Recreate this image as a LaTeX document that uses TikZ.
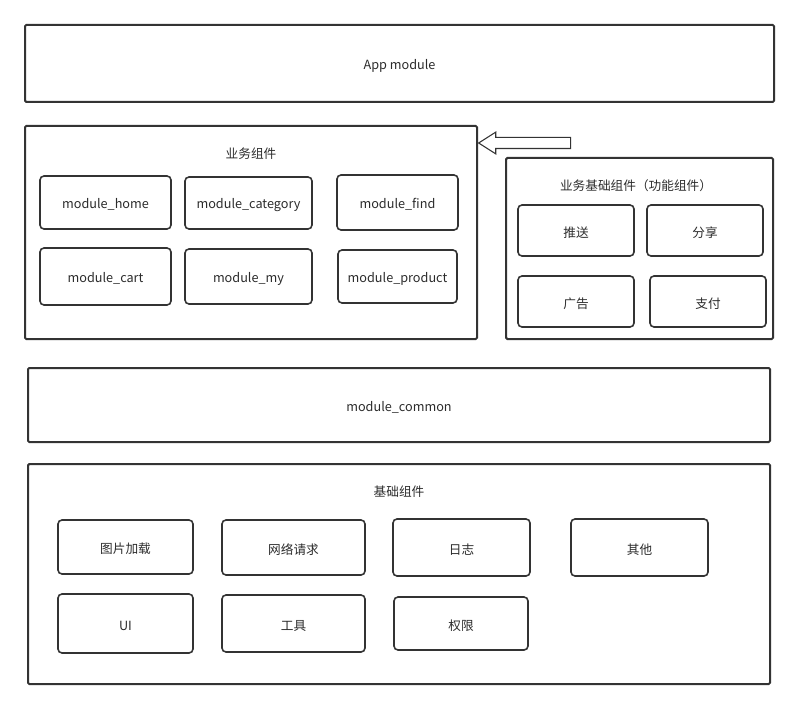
\documentclass[tikz,border=0pt]{standalone}
\usepackage{fontspec}
\setmainfont{Noto Sans CJK SC}
\usetikzlibrary{shapes.arrows, fit}
\definecolor{line}{HTML}{333333}
\definecolor{ink}{HTML}{2B2B2B}

\begin{document}
\begin{tikzpicture}[x=0.75pt, y=-0.75pt,
    frame/.style={draw=line, line width=1.5pt, rounded corners=1pt, inner sep=0pt},
    mod/.style={draw=line, line width=1.2pt, rounded corners=3pt, inner sep=0pt},
    title/.style={text=ink, font=\fontsize{9.5}{11}\selectfont, yshift=-1.5pt}]
    \useasboundingbox (0,0) rectangle (799,709);

    % top
    \node (app) [frame, fit={(25,25) (774,102)}, label={[title]center:App module}] {};

    % business components
    \node (biz) [frame, fit={(25,126) (477,339)}] {};
    \node (bizt) [title] at (251,152) {业务组件};
    \node (home) [mod, fit={(40,176) (171,229)}, label={[title]center:module\_home}] {};
    \node (cat) [mod, fit={(185,177) (312,229)}, label={[title]center:module\_category}] {};
    \node (find) [mod, fit={(337,175) (458,230)}, label={[title]center:module\_find}] {};
    \node (cart) [mod, fit={(40,248) (171,305)}, label={[title]center:module\_cart}] {};
    \node (my) [mod, fit={(185,249) (312,304)}, label={[title]center:module\_my}] {};
    \node (prod) [mod, fit={(338,250) (457,303)}, label={[title]center:module\_product}] {};

    % hollow arrow
    \node (arr) [single arrow, draw=line, line width=0.8pt, shape border rotate=180,
        minimum height=69pt, inner xsep=0pt, inner ysep=3.75pt,
        single arrow head extend=4pt, single arrow tip angle=65] at (529,143) {};

    % functional components
    \node (func) [frame, fit={(506,158) (773,339)}] {};
    \node (funct) [title] at (636,184) {业务基础组件（功能组件）};
    \node (push) [mod, fit={(518,205) (634,256)}, label={[title]center:推送}] {};
    \node (share) [mod, fit={(647,205) (763,256)}, label={[title]center:分享}] {};
    \node (ad) [mod, fit={(518,276) (634,327)}, label={[title]center:广告}] {};
    \node (pay) [mod, fit={(650,276) (766,327)}, label={[title]center:支付}] {};

    % common
    \node (common) [frame, fit={(28,368) (770,442)}, label={[title]center:module\_common}] {};

    % base components
    \node (base) [frame, fit={(28,464) (770,684)}] {};
    \node (baset) [title] at (399,490) {基础组件};
    \node (img) [mod, fit={(58,520) (193,574)}, label={[title]center:图片加载}] {};
    \node (net) [mod, fit={(222,520) (365,575)}, label={[title]center:网络请求}] {};
    \node (log) [mod, fit={(393,519) (530,576)}, label={[title]center:日志}] {};
    \node (other) [mod, fit={(571,519) (708,576)}, label={[title]center:其他}] {};
    \node (ui) [mod, fit={(58,594) (193,653)}, label={[title]center:UI}] {};
    \node (tool) [mod, fit={(222,595) (365,652)}, label={[title]center:工具}] {};
    \node (perm) [mod, fit={(394,597) (528,650)}, label={[title]center:权限}] {};
\end{tikzpicture}
\end{document}
